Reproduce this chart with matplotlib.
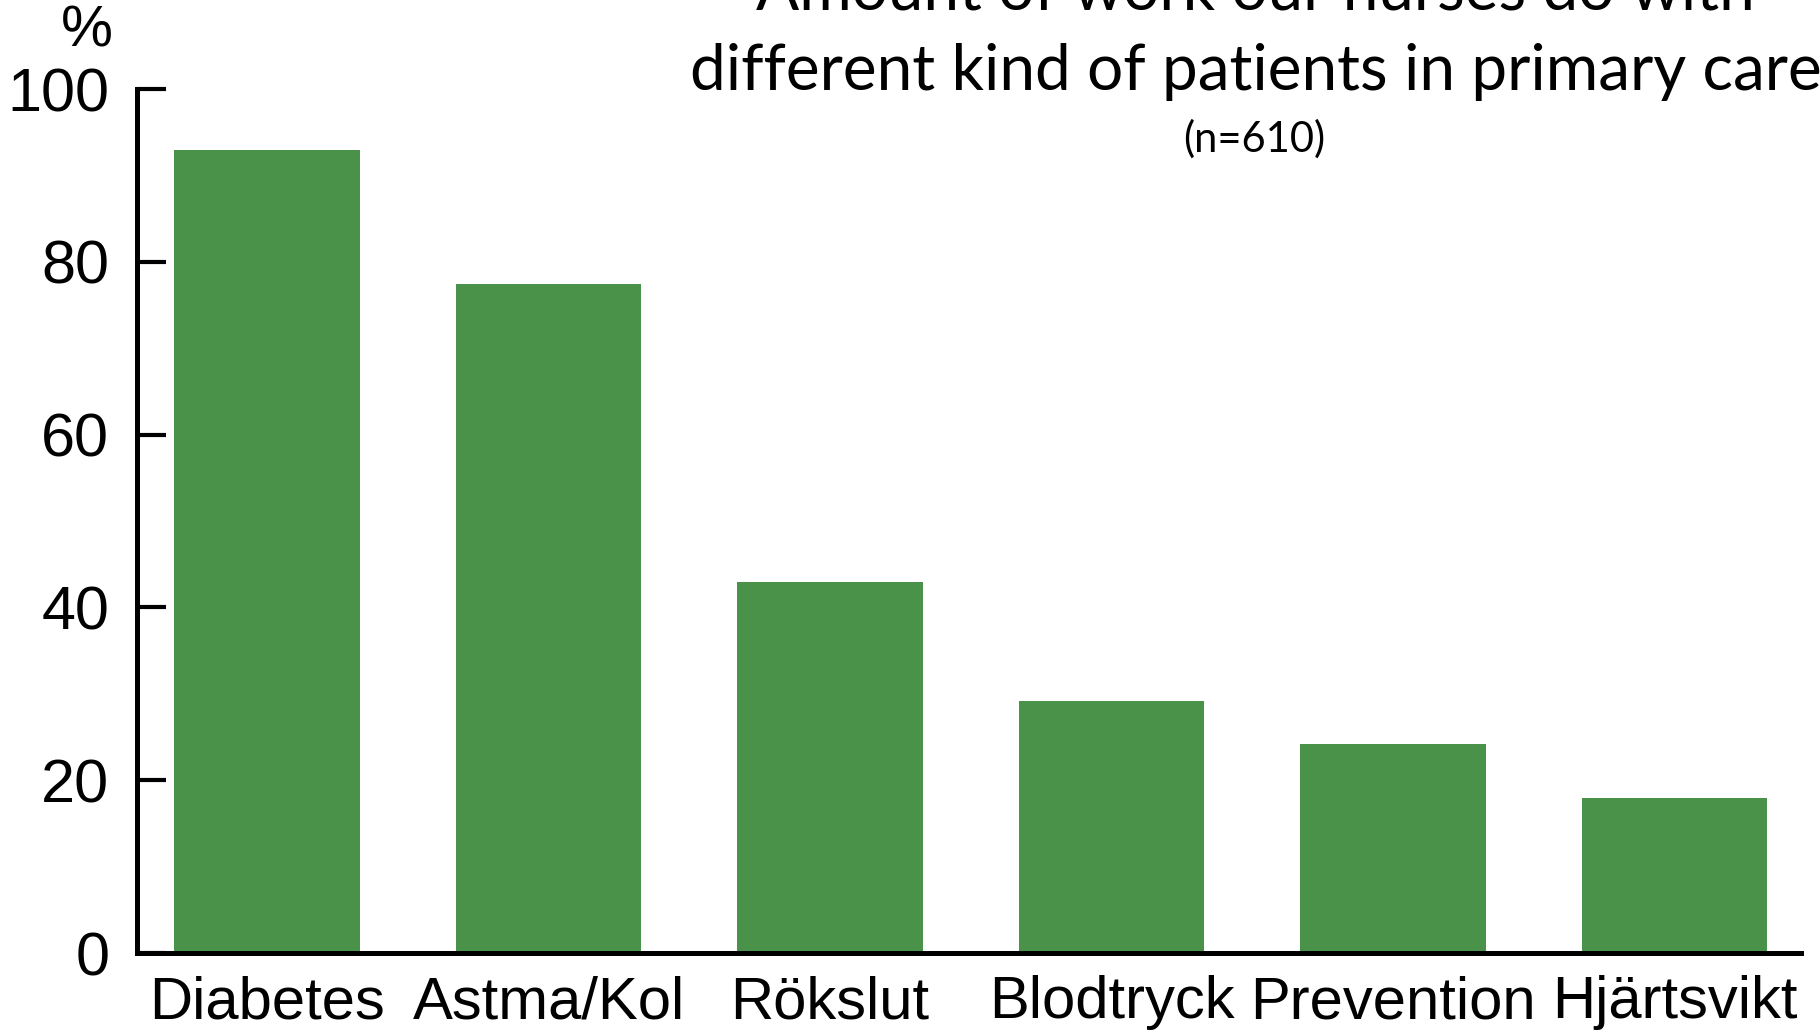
import matplotlib.pyplot as plt

# values
categories = ['Diabetes', 'Astma/Kol', 'Rökslut', 'Blodtryck', 'Prevention', 'Hjärtsvikt']
percent = [93.0, 77.4, 43.0, 29.2, 24.2, 17.9]
yticks = [0, 20, 40, 60, 80, 100]

title_1 = 'Amount of work our nurses do with'
title_2 = 'different kind of patients in primary care'
subtitle = '(n=610)'

green = '#4a9249'

fig = plt.figure(figsize=(18.2, 10.34), dpi=100)
ax = fig.add_axes([0.0753, 0.0783, 0.9143, 0.8356])

x = list(range(len(categories)))
ax.bar(x, percent, width=0.66, color=green)

ax.set_ylim(0, 100)
ax.set_xlim(-0.462, 5.45)
ax.set_yticks(yticks)
ax.set_yticklabels([str(v) for v in yticks], fontsize=44, family='Liberation Sans')
ax.set_xticks(x)
ax.set_xticklabels(categories, fontsize=43, family='Liberation Sans')

ax.spines['top'].set_visible(False)
ax.spines['right'].set_visible(False)
ax.spines['left'].set_linewidth(3.6)
ax.spines['bottom'].set_linewidth(3.6)
ax.tick_params(axis='y', direction='in', length=21, width=3, pad=20)
ax.tick_params(axis='x', length=0, pad=16)

fig.text(0.048, 0.955, '%', fontsize=42, family='Liberation Sans', ha='center', va='baseline')

fig.text(0.690, 1 - 9 / 1034, title_1, fontsize=46, family='Lato', ha='center', va='baseline')
fig.text(0.690, 1 - 90 / 1034, title_2, fontsize=46, family='Lato', ha='center', va='baseline')
fig.text(0.689, 1 - 152 / 1034, subtitle, fontsize=30, family='Lato', ha='center', va='baseline')

fig.savefig('out.png', dpi=100)
